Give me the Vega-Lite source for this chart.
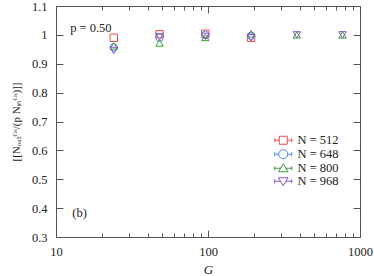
{
  "$schema": "https://vega.github.io/schema/vega-lite/v6.json",
  "width": 304,
  "height": 231,
  "autosize": "none",
  "padding": {"left": 56, "top": 6, "right": 14, "bottom": 39},
  "background": "white",
  "config": {
    "font": "Liberation Serif",
    "view": {"stroke": "#555", "strokeWidth": 1},
    "axis": {"grid": false, "domain": false, "tickColor": "#555", "labelColor": "#222", "labelFontSize": 12.5, "titleColor": "#222", "titleFontWeight": "normal", "labelFont": "Liberation Serif", "titleFont": "Liberation Serif"},
    "legend": {"labelFont": "Liberation Serif"}
  },
  "data": {"values": [
    {"G": 24, "v": 0.990, "N": "N = 512", "s": "512"},
    {"G": 24, "v": 0.957, "N": "N = 648", "s": "648"},
    {"G": 24, "v": 0.962, "N": "N = 800", "s": "800"},
    {"G": 24, "v": 0.946, "N": "N = 968", "s": "968"},
    {"G": 48, "v": 1.002, "N": "N = 512", "s": "512"},
    {"G": 48, "v": 0.990, "N": "N = 648", "s": "648"},
    {"G": 48, "v": 0.972, "N": "N = 800", "s": "800"},
    {"G": 48, "v": 0.994, "N": "N = 968", "s": "968"},
    {"G": 96, "v": 1.004, "N": "N = 512", "s": "512"},
    {"G": 96, "v": 1.000, "N": "N = 648", "s": "648"},
    {"G": 96, "v": 0.991, "N": "N = 800", "s": "800"},
    {"G": 96, "v": 0.995, "N": "N = 968", "s": "968"},
    {"G": 192, "v": 0.990, "N": "N = 512", "s": "512"},
    {"G": 192, "v": 0.997, "N": "N = 648", "s": "648"},
    {"G": 192, "v": 1.004, "N": "N = 800", "s": "800"},
    {"G": 192, "v": 0.990, "N": "N = 968", "s": "968"},
    {"G": 384, "v": 1.000, "N": "N = 800", "s": "800"},
    {"G": 384, "v": 1.000, "N": "N = 968", "s": "968"},
    {"G": 768, "v": 1.000, "N": "N = 800", "s": "800"},
    {"G": 768, "v": 1.000, "N": "N = 968", "s": "968"}
  ]},
  "layer": [
    {
      "mark": {"type": "point", "filled": false, "strokeWidth": 1, "size": 55, "opacity": 1},
      "encoding": {
        "x": {"field": "G", "type": "quantitative",
          "scale": {"type": "log", "domain": [10, 1000], "nice": false},
          "axis": {"orient": "bottom", "title": "G", "titleFontStyle": "italic", "titleFontSize": 13, "titlePadding": 3,
            "values": [10, 20, 30, 40, 50, 60, 70, 80, 90, 100, 200, 300, 400, 500, 600, 700, 800, 900, 1000],
            "labelExpr": "datum.value == 10 || datum.value == 100 || datum.value == 1000 ? format(datum.value, 'd') : ''",
            "tickSize": {"condition": {"test": "datum.value == 10 || datum.value == 100 || datum.value == 1000", "value": -7}, "value": -4},
            "labelPadding": 15, "labelFlush": false, "labelOverlap": false}},
        "y": {"field": "v", "type": "quantitative",
          "scale": {"domain": [0.3, 1.1], "nice": false, "zero": false},
          "axis": {"orient": "left", "title": "[[Nₒᵤₜᴳˢ/(p Nᵢₙᴳˢ)]]", "titleFontSize": 11, "titlePadding": 10,
            "values": [0.3, 0.4, 0.5, 0.6, 0.7, 0.8, 0.9, 1.0, 1.1], "format": "~g",
            "tickSize": -7, "labelPadding": 16}},
        "color": {"field": "N", "type": "nominal",
          "scale": {"domain": ["N = 512", "N = 648", "N = 800", "N = 968"], "range": ["#f04a4a", "#4f86e8", "#3a9a3a", "#8855cc"]},
          "legend": {"orient": "none", "legendX": 221, "legendY": 128, "title": null, "padding": 0, "labelFontSize": 12.5, "labelColor": "#222", "symbolSize": 100, "symbolStrokeWidth": 1, "symbolFillColor": "transparent", "rowPadding": 0, "labelOffset": 8,
            "symbolType": {"expr": "datum.value === 'N = 512' ? 'M-1.7,0H-0.8M0.8,0H1.7M-1.7,-0.4V0.4M1.7,-0.4V0.4M-0.8,-0.8H0.8V0.8H-0.8Z' : datum.value === 'N = 648' ? 'M-1.7,0H-0.9M0.9,0H1.7M-1.7,-0.4V0.4M1.7,-0.4V0.4M-0.9,0A0.9,0.9 0 1,0 0.9,0A0.9,0.9 0 1,0 -0.9,0Z' : datum.value === 'N = 800' ? 'M-1.7,0H-0.5M0.5,0H1.7M-1.7,-0.4V0.4M1.7,-0.4V0.4M0,-0.9L0.95,0.7H-0.95Z' : 'M-1.7,0H-0.5M0.5,0H1.7M-1.7,-0.4V0.4M1.7,-0.4V0.4M0,0.9L0.95,-0.7H-0.95Z'"}}},
        "shape": {"field": "s", "type": "nominal",
          "scale": {"domain": ["512", "648", "800", "968"], "range": ["square", "circle", "triangle-up", "triangle-down"]},
          "legend": null}
      }
    },
    {
      "data": {"values": [
        {"G": 12.4, "v": 1.023, "t": "p = 0.50"},
        {"G": 12.8, "v": 0.383, "t": "(b)"}
      ]},
      "mark": {"type": "text", "align": "left", "baseline": "middle", "fontSize": 12.5, "font": "Liberation Serif", "color": "#222"},
      "encoding": {
        "x": {"field": "G", "type": "quantitative",
          "axis": {"orient": "top", "title": null, "labels": false,
            "values": [10, 20, 30, 40, 50, 60, 70, 80, 90, 100, 200, 300, 400, 500, 600, 700, 800, 900, 1000],
            "tickSize": {"condition": {"test": "datum.value == 10 || datum.value == 100 || datum.value == 1000", "value": -7}, "value": -4}}},
        "y": {"field": "v", "type": "quantitative",
          "axis": {"orient": "right", "title": null, "labels": false,
            "values": [0.3, 0.4, 0.5, 0.6, 0.7, 0.8, 0.9, 1.0, 1.1], "tickSize": -7}},
        "text": {"field": "t", "type": "nominal"}
      }
    }
  ],
  "resolve": {"axis": {"x": "independent", "y": "independent"}}
}
